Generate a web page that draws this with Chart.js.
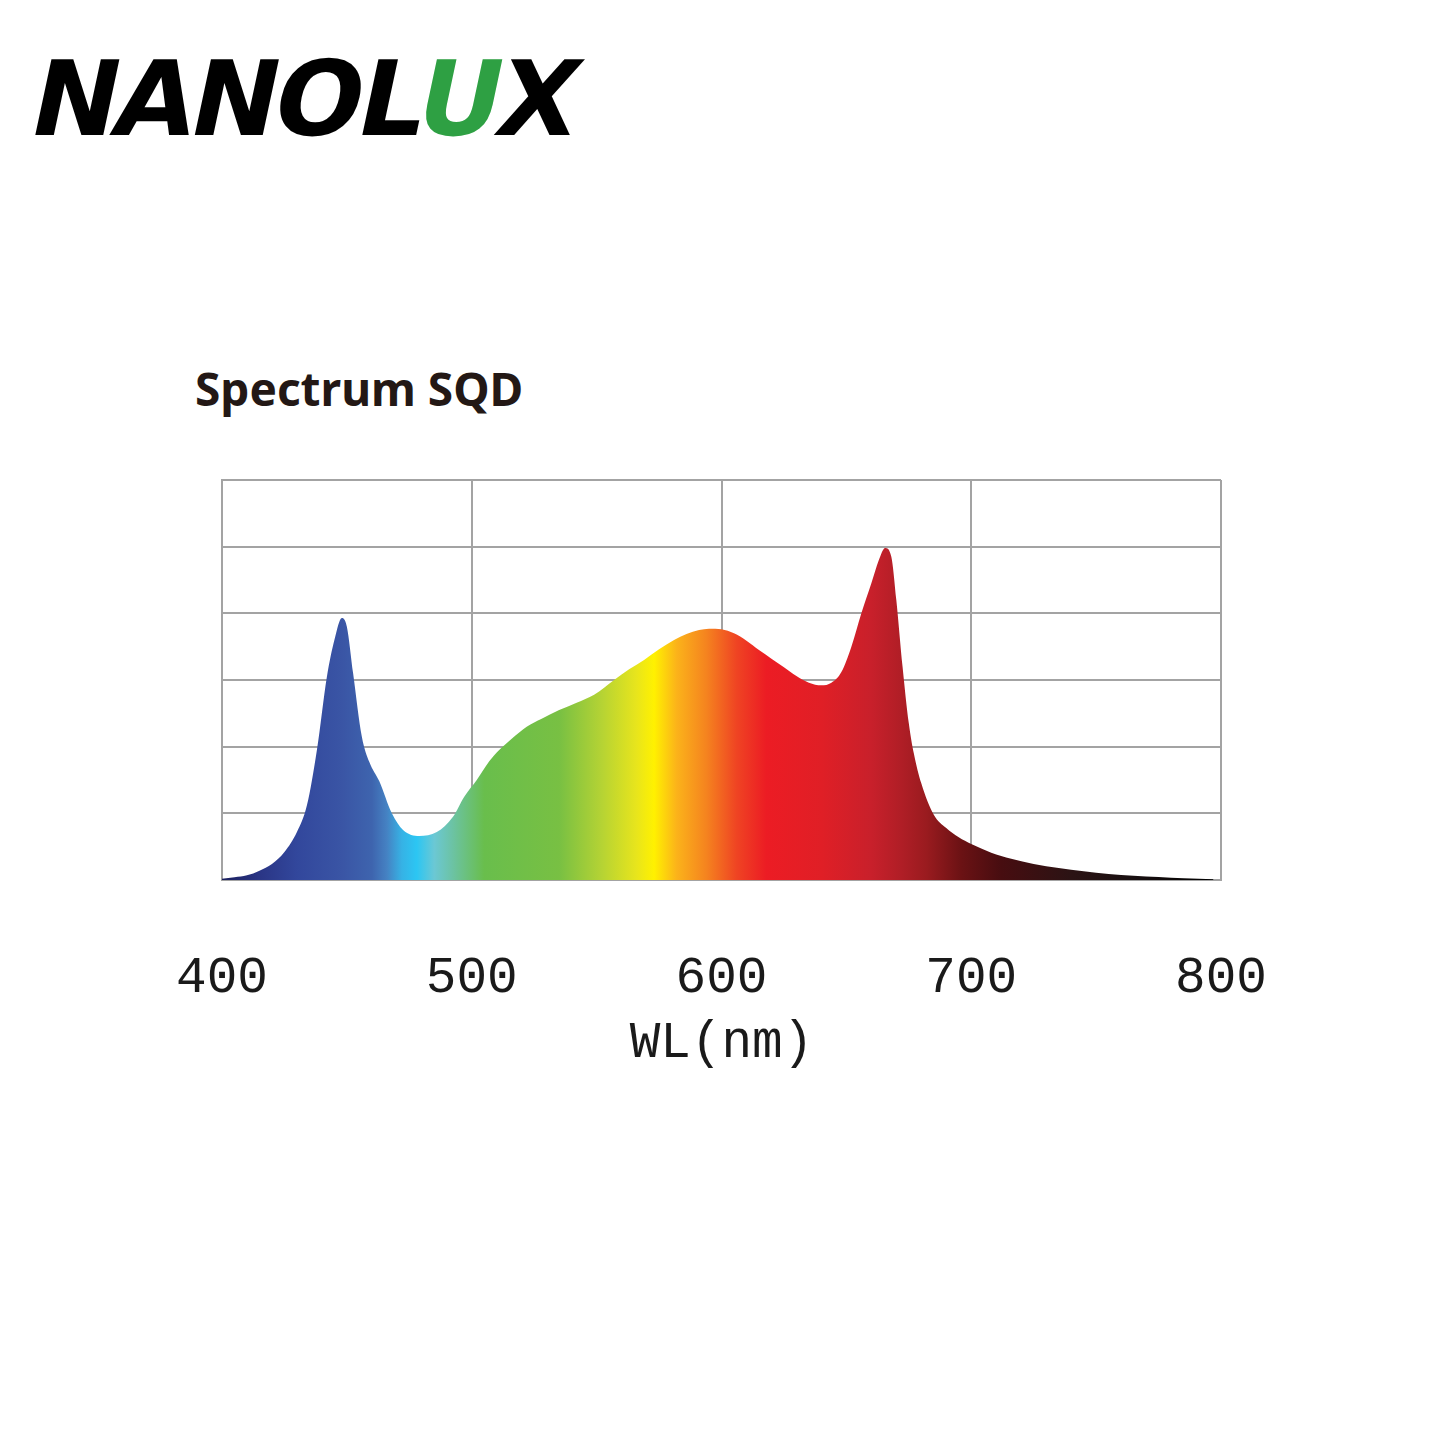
<!DOCTYPE html>
<html>
<head>
<meta charset="utf-8">
<script src="https://cdn.jsdelivr.net/npm/chart.js@4.4.1/dist/chart.umd.min.js"></script>
<style>
  html, body { margin: 0; padding: 0; background: #fff; }
  body { width: 1445px; height: 1445px; position: relative; overflow: hidden; }
  #logo {
    position: absolute; left: 20px; top: 36px;
    font-family: "DejaVu Sans", sans-serif; font-weight: bold;
    font-size: 104px; line-height: 126px; letter-spacing: -4px;
    color: #000; transform: skewX(-12deg); transform-origin: left bottom;
    white-space: nowrap;
  }
  #logo .leaf { color: #2ea043; }
  #title {
    position: absolute; left: 195px; top: 362px;
    font-family: "Noto Sans", "Open Sans", sans-serif; font-weight: bold;
    font-size: 46px; line-height: 52px; color: #231815; white-space: nowrap;
  }
  #chart { position: absolute; left: 0; top: 0; }
</style>
</head>
<body>
<div id="logo">NANOL<span class="leaf">U</span>X</div>
<div id="title">Spectrum SQD</div>
<canvas id="chart" width="1445" height="1445"></canvas>
<script>
// wavelength (nm) and relative intensity
const wavelengths = [400, 405, 410, 415, 420, 425, 430, 434, 438, 442, 445, 448, 450, 452.5, 456, 459, 463, 468, 472.5, 479,
  486, 492.5, 497, 502, 507, 511, 516, 522, 528, 535, 542, 549, 557, 563, 569, 575, 581, 586, 591, 595,
  600, 605, 610, 615, 620, 625, 630, 635, 640, 644, 648, 652, 656, 660, 663, 665.5, 668, 670, 672.5, 675,
  677, 680, 685, 690, 695, 700, 708, 716, 725, 735, 745, 755, 765, 775, 785, 797];
const intensity = [0.02, 0.04, 0.07, 0.14, 0.24, 0.42, 0.72, 1.12, 1.95, 3.05, 3.6, 3.93, 3.8, 3.1, 2.15, 1.77, 1.48, 1.0, 0.75, 0.66,
  0.72, 0.95, 1.25, 1.5, 1.78, 1.95, 2.12, 2.3, 2.42, 2.55, 2.66, 2.78, 3.0, 3.16, 3.3, 3.46, 3.6, 3.69, 3.75, 3.77,
  3.76, 3.7, 3.59, 3.45, 3.32, 3.19, 3.06, 2.96, 2.92, 2.96, 3.12, 3.5, 4.0, 4.45, 4.8, 4.98, 4.85, 4.2, 3.2, 2.35,
  1.9, 1.45, 0.98, 0.78, 0.64, 0.54, 0.41, 0.32, 0.24, 0.18, 0.13, 0.09, 0.065, 0.045, 0.025, 0.01];
const xTicks = [400, 500, 600, 700, 800];

// colour of the fill along the wavelength axis
const spectrumStops = [
  [400, '#1b1f5e'], [415, '#2a3585'], [430, '#32479c'], [448, '#3a55a5'], [460, '#3e64ae'],
  [466, '#4582c3'], [472, '#36b2e5'], [478, '#2cc6f3'], [485, '#6bc8d4'], [492, '#6cc3a6'],
  [505, '#69be4c'], [535, '#78c043'], [552, '#b5d334'], [566, '#e8e51c'], [573, '#fff100'],
  [582, '#fbb31a'], [594, '#f5831f'], [606, '#ef4423'], [618, '#ec1c24'], [640, '#e01f26'],
  [660, '#c8202b'], [672, '#b01e26'], [682, '#9a1b1f'], [696, '#6b1214'], [712, '#470d10'],
  [740, '#2b1314'], [765, '#191011'], [797, '#000000']
];

function spectrumFill(context) {
  const chart = context.chart;
  const area = chart.chartArea;
  if (!area) return '#3a55a5';
  const xs = chart.scales.x;
  const x0 = xs.getPixelForValue(400), x1 = xs.getPixelForValue(800);
  const g = chart.ctx.createLinearGradient(x0, 0, x1, 0);
  spectrumStops.forEach(function (s) {
    g.addColorStop((s[0] - 400) / 400, s[1]);
  });
  return g;
}

const gridColor = '#a3a3a3';
const monoFont = '"Liberation Mono", "Courier New", monospace';

new Chart(document.getElementById('chart').getContext('2d'), {
  type: 'line',
  data: {
    datasets: [{
      label: 'Spectrum SQD',
      data: wavelengths.map(function (w, i) { return { x: w, y: intensity[i] }; }),
      fill: 'origin',
      backgroundColor: spectrumFill,
      borderWidth: 0,
      pointRadius: 0,
      cubicInterpolationMode: 'monotone'
    }]
  },
  options: {
    responsive: false,
    devicePixelRatio: 1,
    animation: false,
    layout: { padding: { left: 222, right: 224, top: 480, bottom: 371 } },
    plugins: { legend: { display: false }, tooltip: { enabled: false } },
    scales: {
      x: {
        type: 'linear',
        min: 400,
        max: 800,
        afterBuildTicks: function (scale) { scale.ticks = xTicks.map(function (v) { return { value: v }; }); },
        afterFit: function (scale) { scale.height = 194; },
        grid: { color: gridColor, lineWidth: 2, drawTicks: false },
        border: { color: gridColor, width: 2 },
        ticks: {
          color: '#1a1a1a',
          padding: 68,
          maxRotation: 0,
          autoSkip: false,
          font: { family: monoFont, size: 51 }
        },
        title: {
          display: true,
          text: 'WL(nm)',
          color: '#1a1a1a',
          padding: 0,
          font: { family: monoFont, size: 51 }
        }
      },
      y: {
        min: 0,
        max: 6,
        afterFit: function (scale) { scale.width = 0; },
        grid: { color: gridColor, lineWidth: 2, drawTicks: false },
        border: { color: gridColor, width: 2 },
        ticks: { display: false, stepSize: 1 }
      }
    }
  }
});
</script>
</body>
</html>
